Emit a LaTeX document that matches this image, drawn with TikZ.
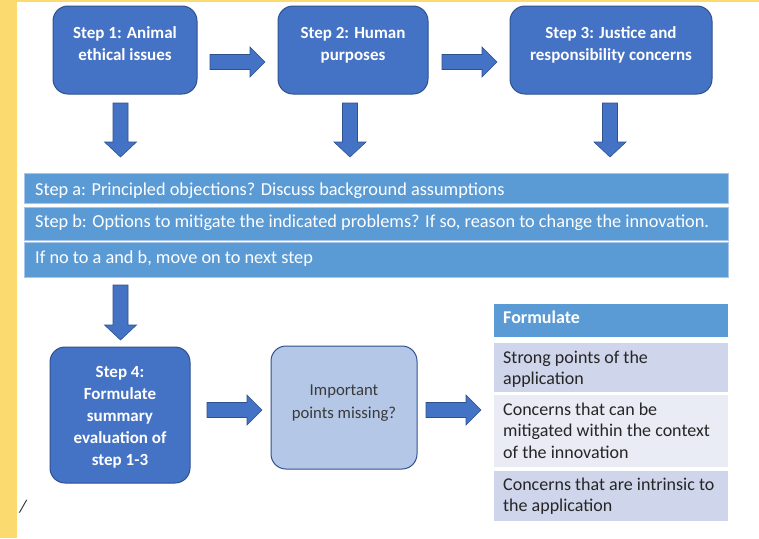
\documentclass[tikz,border=0pt]{standalone}
\usepackage{fontspec}
\setmainfont{Carlito}
\usetikzlibrary{calc}
\definecolor{stepfill}{HTML}{4472C4}
\definecolor{stepline}{HTML}{2F528F}
\definecolor{bandfill}{HTML}{5B9BD5}
\definecolor{bandline}{HTML}{A9C6E8}
\definecolor{lightfill}{HTML}{B4C7E7}
\definecolor{rowA}{HTML}{CFD5EA}
\definecolor{rowB}{HTML}{E9EBF5}
\definecolor{framey}{HTML}{FBDA6F}
\definecolor{darktext}{HTML}{262626}
\definecolor{imptext}{HTML}{3A3A3A}
\newcommand\hblock[2]{\fill[blockarrow] let \p1=(#1), \p2=(#2) in
  (\x1,\y1+7.5pt) -- (\x2-15pt,\y1+7.5pt) -- (\x2-15pt,\y1+15pt) -- (\x2,\y1)
  -- (\x2-15pt,\y1-15pt) -- (\x2-15pt,\y1-7.5pt) -- (\x1,\y1-7.5pt) -- cycle;}
\newcommand\vblock[2]{\fill[blockarrow] let \p1=(#1), \p2=(#2) in
  (\x1-7.5pt,\y1) -- (\x1-7.5pt,\y2+15pt) -- (\x1-16pt,\y2+15pt) -- (\x1,\y2)
  -- (\x1+16pt,\y2+15pt) -- (\x1+7.5pt,\y2+15pt) -- (\x1+7.5pt,\y1) -- cycle;}
\begin{document}
\begin{tikzpicture}[x=1pt,y=-1pt,
  stepbox/.style={draw=stepline, fill=stepfill, line width=1pt, rounded corners=15pt, minimum width=#1, inner sep=0pt},
  steptext/.style={text=white, font=\fontsize{17}{22}\selectfont\bfseries, align=center, inner sep=0pt, anchor=base},
  blockarrow/.style={fill=stepfill, draw=stepline, line width=0.6pt},
  bandbox/.style={draw=bandline, fill=bandfill, line width=0.8pt},
  bandtext/.style={text=white, font=\fontsize{18.3}{22}\selectfont, anchor=base west, inner sep=0pt},
  rowtext/.style={text=darktext, font=\fontsize{18}{21.5}\selectfont, align=left, anchor=base west, inner sep=0pt},
  cellbox/.style={draw=white, line width=1pt}]
\useasboundingbox (0,0) rectangle (759,538);
\fill[white] (0,0) rectangle (759,538);
% yellow frame
\fill[framey] (0,0) rectangle (17,538);
\fill[framey] (0,0) rectangle (759,2);

% top steps
\node[stepbox=144pt, minimum height=88pt] (s1) at (125,50) {};
\node[steptext] (s1t) at (125,60) {Step 1: Animal\\ethical issues};
\node[stepbox=150pt, minimum height=88pt] (s2) at (353,50) {};
\node[steptext] (s2t) at (353,60) {Step 2: Human\\purposes};
\node[stepbox=202pt, minimum height=88pt] (s3) at (611,50) {};
\node[steptext] (s3t) at (611,60) {Step 3: Justice and\\responsibility concerns};

\coordinate (h1a) at (210,62); \coordinate (h1b) at (265,62);
\coordinate (h2a) at (442,62); \coordinate (h2b) at (497,62);
\hblock{h1a}{h1b}
\hblock{h2a}{h2b}

\coordinate (d1a) at (120.5,103); \coordinate (d1b) at (120.5,157);
\coordinate (d2a) at (350,103); \coordinate (d2b) at (350,157);
\coordinate (d3a) at (610,103); \coordinate (d3b) at (610,157);
\vblock{d1a}{d1b}
\vblock{d2a}{d2b}
\vblock{d3a}{d3b}

% bands
\draw[bandbox] (24,173) rectangle (728,203);
\draw[bandbox] (24,207) rectangle (728,240);
\draw[bandbox] (24,242) rectangle (728,277);
\node[bandtext] (ba) at (35,195) {Step a: Principled objections? Discuss background assumptions};
\node[bandtext] (bb) at (35,227.5) {Step b: Options to mitigate the indicated problems? If so, reason to change the innovation.};
\node[bandtext] (bc) at (35,263) {If no to a and b, move on to next step};

\coordinate (d4a) at (120.5,285); \coordinate (d4b) at (120.5,340);
\vblock{d4a}{d4b}

% step 4
\node[stepbox=140pt, minimum height=136pt] (s4) at (120,415) {};
\node[steptext] (s4t) at (120,465) {Step 4:\\Formulate\\summary\\evaluation of\\step 1-3};

% important
\node[draw=stepline, fill=lightfill, line width=1pt, rounded corners=15pt, minimum width=146pt, minimum height=123pt] (imp) at (344,407.5) {};
\node[text=imptext, font=\fontsize{16.7}{23}\selectfont, align=center, inner sep=0pt, anchor=base] (impt) at (344,418) {Important\\points missing?};

\coordinate (h3a) at (207,410); \coordinate (h3b) at (262,410);
\coordinate (h4a) at (426,410); \coordinate (h4b) at (481,410);
\hblock{h3a}{h3b}
\hblock{h4a}{h4b}

% table
\draw[cellbox, fill=bandfill] (493,303) rectangle (728,337);
\draw[cellbox, fill=rowA] (493,342) rectangle (728,392);
\draw[cellbox, fill=rowB] (493,394) rectangle (728,467);
\draw[cellbox, fill=rowA] (493,470) rectangle (728,521);
\node[text=white, font=\fontsize{18}{20}\selectfont\bfseries, anchor=base west, inner sep=0pt] (th) at (503,323) {Formulate};
\node[rowtext] (r1) at (503,384.5) {Strong points of the\\application};
\node[rowtext] (r2) at (503,458) {Concerns that can be\\mitigated within the context\\of the innovation};
\node[rowtext] (r3) at (503,511.5) {Concerns that are intrinsic to\\the application};

\node[text=darktext, font=\fontsize{18}{20}\selectfont\itshape, inner sep=0pt] (sl) at (23,507) {/};
\end{tikzpicture}
\end{document}
